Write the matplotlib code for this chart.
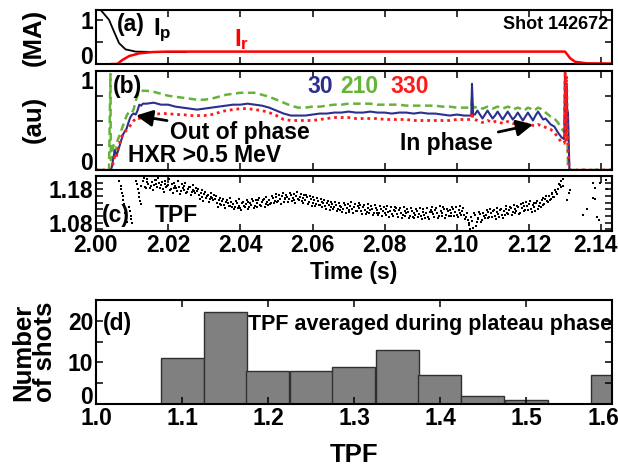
import matplotlib
matplotlib.use("Agg")
import matplotlib.pyplot as plt
from matplotlib.transforms import ScaledTranslation
import numpy as np

plt.rcParams['font.family'] = ['Liberation Sans', 'DejaVu Sans']
plt.rcParams['font.weight'] = 'bold'
plt.rcParams['mathtext.fontset'] = 'custom'
plt.rcParams['mathtext.rm'] = 'Liberation Sans:bold'
plt.rcParams['mathtext.it'] = 'Liberation Sans:bold'

# ---- (a) plasma current and runaway current (MA)
ip_t = [2.0000, 2.0013, 2.0036, 2.0050, 2.0064, 2.0082, 2.0110, 2.0175, 2.0250]
ip_v = [1.30, 1.22, 1.00, 0.73, 0.47, 0.33, 0.28, 0.27, 0.27]
ir_t = [2.0045, 2.0059, 2.0073, 2.0092, 2.0120, 2.0156, 2.0200, 2.0400, 2.0600,
        2.0800, 2.1000, 2.1200, 2.1300, 2.1314, 2.1328, 2.1360, 2.1430]
ir_v = [0.0, 0.0, 0.09, 0.18, 0.24, 0.27, 0.28, 0.28, 0.28,
        0.28, 0.28, 0.28, 0.28, 0.13, 0.05, 0.015, 0.01]

# ---- (b) HXR signals at toroidal angles 30, 210, 330
hxr_t = [2.0000, 2.0036,
         2.0040, 2.0041, 2.0044, 2.0048, 2.0052, 2.0056, 2.0060, 2.0065, 2.0070, 2.0075,
         2.0080, 2.0085, 2.0090, 2.0095, 2.0100, 2.0105, 2.0110, 2.0115, 2.0120, 2.0125, 2.0130,
         2.014, 2.016, 2.018, 2.020, 2.022, 2.024, 2.026, 2.028, 2.030, 2.032,
         2.034, 2.036, 2.038, 2.040, 2.042, 2.044, 2.046, 2.048, 2.050, 2.052,
         2.054, 2.056, 2.058, 2.060, 2.062, 2.064, 2.066, 2.068, 2.070, 2.072,
         2.074, 2.076, 2.078, 2.080, 2.082, 2.084, 2.086, 2.088, 2.090, 2.092,
         2.094, 2.096, 2.098, 2.100, 2.102,
         2.1035, 2.1040, 2.1042, 2.1045, 2.1050,
         2.1057, 2.1064, 2.1071, 2.1078, 2.1085, 2.1092, 2.1099, 2.1106, 2.1113, 2.1120,
         2.1127, 2.1134, 2.1141, 2.1148, 2.1155, 2.1162, 2.1169, 2.1176, 2.1183, 2.1190,
         2.1197, 2.1204, 2.1211, 2.1218, 2.1225, 2.1232, 2.1239, 2.1246, 2.1253, 2.1260,
         2.1270, 2.1280, 2.1290, 2.1298, 2.1300, 2.1302, 2.1304, 2.1306, 2.1308, 2.1312,
         2.1320, 2.1430]
hxr_30 = [0.0, 0.0,
          0.0, 0.0, 0.03, 0.12, 0.20, 0.15, 0.18, 0.24, 0.30, 0.36,
          0.39, 0.42, 0.48, 0.53, 0.56, 0.57, 0.56, 0.60, 0.66, 0.65, 0.67,
          0.67, 0.68, 0.66, 0.66, 0.64, 0.63, 0.62, 0.61, 0.62, 0.63,
          0.64, 0.65, 0.66, 0.66, 0.67, 0.66, 0.65, 0.63, 0.60, 0.57,
          0.55, 0.55, 0.55, 0.56, 0.57, 0.57, 0.58, 0.58, 0.59, 0.58,
          0.58, 0.59, 0.58, 0.58, 0.57, 0.58, 0.58, 0.57, 0.58, 0.57,
          0.57, 0.56, 0.55, 0.56, 0.55,
          0.55, 0.55, 0.87, 0.56, 0.56,
          0.60, 0.56, 0.52, 0.56, 0.60, 0.56, 0.52, 0.55, 0.59, 0.55,
          0.51, 0.55, 0.59, 0.55, 0.51, 0.54, 0.58, 0.54, 0.50, 0.54,
          0.58, 0.54, 0.50, 0.55, 0.59, 0.55, 0.51, 0.52, 0.49, 0.46,
          0.44, 0.38, 0.33, 0.31, 0.98, 0.35, 0.85, 0.60, 0.58, 0.0,
          0.0, 0.0]
hxr_210 = [0.0, 0.0,
           0.97, 0.10, 0.12, 0.25, 0.18, 0.22, 0.30, 0.35, 0.40, 0.45,
           0.50, 0.55, 0.58, 0.57, 0.58, 0.62, 0.70, 0.75, 0.78, 0.80, 0.80,
           0.80, 0.79, 0.77, 0.75, 0.74, 0.73, 0.72, 0.71, 0.71, 0.72,
           0.74, 0.76, 0.77, 0.78, 0.78, 0.78, 0.76, 0.74, 0.71, 0.68,
           0.65, 0.63, 0.63, 0.64, 0.64, 0.65, 0.66, 0.66, 0.67, 0.67,
           0.67, 0.67, 0.66, 0.66, 0.66, 0.66, 0.65, 0.65, 0.65, 0.65,
           0.65, 0.64, 0.64, 0.63, 0.63,
           0.63, 0.63, 0.72, 0.64, 0.63,
           0.64, 0.63, 0.62, 0.63, 0.64, 0.63, 0.62, 0.63, 0.64, 0.63,
           0.62, 0.63, 0.64, 0.63, 0.61, 0.62, 0.63, 0.62, 0.60, 0.61,
           0.63, 0.62, 0.60, 0.61, 0.63, 0.62, 0.60, 0.58, 0.56, 0.54,
           0.52, 0.48, 0.42, 0.38, 0.92, 0.40, 0.80, 0.45, 0.0, 0.0,
           0.0, 0.0]
hxr_330 = [0.0, 0.0,
           0.0, 0.0, 0.01, 0.08, 0.14, 0.12, 0.20, 0.26, 0.33, 0.36,
           0.38, 0.41, 0.43, 0.45, 0.47, 0.50, 0.52, 0.53, 0.52, 0.53, 0.54,
           0.55, 0.56, 0.57, 0.57, 0.56, 0.56, 0.55, 0.55, 0.55, 0.56,
           0.58, 0.60, 0.61, 0.62, 0.62, 0.61, 0.60, 0.58, 0.55, 0.51,
           0.50, 0.50, 0.50, 0.50, 0.51, 0.52, 0.53, 0.53, 0.53, 0.52,
           0.52, 0.52, 0.52, 0.51, 0.51, 0.51, 0.51, 0.50, 0.50, 0.50,
           0.50, 0.50, 0.50, 0.51, 0.51,
           0.51, 0.51, 0.58, 0.51, 0.51,
           0.50, 0.49, 0.48, 0.49, 0.50, 0.49, 0.48, 0.49, 0.49, 0.48,
           0.47, 0.48, 0.49, 0.48, 0.47, 0.47, 0.48, 0.47, 0.46, 0.46,
           0.47, 0.46, 0.45, 0.45, 0.46, 0.45, 0.44, 0.43, 0.42, 0.41,
           0.38, 0.33, 0.28, 0.27, 1.00, 0.30, 0.95, 0.40, 0.20, 0.0,
           0.0, 0.0]

# ---- (c) toroidal peaking factor vs time, two interleaved sample sets
tpf_start, tpf_start2, tpf_step = 2.0130, 2.01325, 0.0005
tpf_vals = [1.205, 1.188, 1.212, 1.196, 1.183, 1.201, 1.192, 1.209, 1.187, 1.199,
            1.194, 1.181, 1.197, 1.186, 1.192, 1.178, 1.195, 1.184, 1.190, 1.176,
            1.188, 1.174, 1.183, 1.191, 1.170, 1.180, 1.186, 1.172, 1.179, 1.168,
            1.175, 1.162, 1.170, 1.158, 1.166, 1.155, 1.163, 1.150, 1.158, 1.147,
            1.152, 1.140, 1.149, 1.137, 1.146, 1.133, 1.143, 1.138, 1.129, 1.141,
            1.135, 1.127, 1.140, 1.131, 1.124, 1.138, 1.129, 1.135, 1.142, 1.128,
            1.133, 1.145, 1.130, 1.139, 1.147, 1.134, 1.141, 1.150, 1.136, 1.143,
            1.148, 1.139, 1.153, 1.144, 1.157, 1.146, 1.152, 1.160, 1.143, 1.155,
            1.158, 1.150, 1.163, 1.155, 1.148, 1.161, 1.152, 1.158, 1.146, 1.154,
            1.149, 1.157, 1.143, 1.152, 1.140, 1.148, 1.137, 1.145, 1.133, 1.141,
            1.138, 1.129, 1.140, 1.132, 1.126, 1.137, 1.128, 1.134, 1.122, 1.131,
            1.128, 1.120, 1.133, 1.125, 1.118, 1.130, 1.122, 1.127, 1.116, 1.129,
            1.123, 1.115, 1.127, 1.119, 1.112, 1.125, 1.117, 1.121, 1.110, 1.124,
            1.118, 1.110, 1.122, 1.114, 1.108, 1.120, 1.112, 1.116, 1.106, 1.119,
            1.114, 1.106, 1.118, 1.110, 1.103, 1.116, 1.108, 1.112, 1.101, 1.115,
            1.110, 1.102, 1.114, 1.106, 1.099, 1.112, 1.104, 1.109, 1.098, 1.113,
            1.112, 1.105, 1.118, 1.108, 1.101, 1.116, 1.109, 1.120, 1.104, 1.114,
            1.117, 1.108, 1.121, 1.111, 1.104, 1.118, 1.110, 1.115, 1.102, 1.096,
            1.088, 1.072, 1.097, 1.065, 1.102, 1.083, 1.095, 1.106, 1.089, 1.099,
            1.104, 1.112, 1.098, 1.109, 1.115, 1.101, 1.111, 1.106, 1.117, 1.103,
            1.114, 1.121, 1.108, 1.119, 1.125, 1.112, 1.122, 1.116, 1.127, 1.110,
            1.124, 1.131, 1.118, 1.129, 1.135, 1.121, 1.132, 1.126, 1.138, 1.120,
            1.138, 1.147, 1.132, 1.152, 1.144, 1.160, 1.151, 1.166, 1.158, 1.172,
            1.180, 1.192, 1.205]
tpf_vals2 = [1.214, 1.183, 1.203, 1.219, 1.191, 1.178, 1.207, 1.196, 1.215, 1.185,
             1.201, 1.172, 1.206, 1.189, 1.211, 1.180, 1.169, 1.199, 1.183, 1.204,
             1.166, 1.195, 1.178, 1.199, 1.171, 1.188, 1.163, 1.192, 1.176, 1.185,
             1.181, 1.152, 1.177, 1.146, 1.172, 1.160, 1.141, 1.168, 1.153, 1.163,
             1.160, 1.128, 1.155, 1.132, 1.151, 1.124, 1.147, 1.130, 1.154, 1.126,
             1.120, 1.145, 1.123, 1.150, 1.118, 1.143, 1.126, 1.148, 1.121, 1.139,
             1.152, 1.125, 1.147, 1.128, 1.155, 1.130, 1.149, 1.126, 1.156, 1.133,
             1.135, 1.161, 1.138, 1.165, 1.141, 1.163, 1.137, 1.168, 1.150, 1.162,
             1.143, 1.170, 1.146, 1.167, 1.140, 1.172, 1.149, 1.166, 1.139, 1.163,
             1.164, 1.136, 1.160, 1.131, 1.157, 1.129, 1.154, 1.133, 1.151, 1.127,
             1.149, 1.121, 1.145, 1.118, 1.143, 1.120, 1.141, 1.116, 1.140, 1.119,
             1.113, 1.139, 1.110, 1.136, 1.112, 1.141, 1.109, 1.135, 1.114, 1.138,
             1.134, 1.107, 1.132, 1.105, 1.137, 1.108, 1.130, 1.103, 1.133, 1.109,
             1.102, 1.129, 1.100, 1.127, 1.104, 1.131, 1.098, 1.126, 1.101, 1.128,
             1.125, 1.097, 1.123, 1.095, 1.127, 1.099, 1.121, 1.094, 1.124, 1.098,
             1.093, 1.121, 1.096, 1.124, 1.091, 1.120, 1.095, 1.123, 1.090, 1.118,
             1.126, 1.097, 1.124, 1.095, 1.129, 1.099, 1.127, 1.094, 1.122, 1.100,
             1.099, 1.128, 1.101, 1.126, 1.097, 1.130, 1.103, 1.124, 1.090, 1.110,
             1.078, 1.060, 1.085, 1.110, 1.070, 1.092, 1.113, 1.081, 1.108, 1.094,
             1.118, 1.093, 1.121, 1.096, 1.119, 1.092, 1.123, 1.097, 1.120, 1.095,
             1.104, 1.131, 1.106, 1.128, 1.102, 1.133, 1.108, 1.130, 1.105, 1.135,
             1.140, 1.114, 1.142, 1.117, 1.145, 1.112, 1.139, 1.115, 1.146, 1.130,
             1.128, 1.155, 1.137, 1.161, 1.141, 1.149, 1.170, 1.156, 1.178, 1.165,
             1.195, 1.188]
tpf_sparse_t = [2.0065, 2.0068, 2.0070, 2.0072, 2.0074, 2.0076, 2.0078, 2.0079, 2.0081,
                2.0083, 2.0085, 2.0092, 2.0094, 2.0096, 2.0098, 2.0100, 2.0112, 2.0114,
                2.0116, 2.0118, 2.0120, 2.0122, 2.0124, 2.0126,
                2.1293, 2.1294, 2.1305, 2.1312, 2.1314, 2.1350, 2.1360, 2.1378, 2.1378,
                2.1383, 2.1383, 2.1389, 2.1394, 2.1397, 2.1414, 2.1417]
tpf_sparse_v = [1.205, 1.190, 1.182, 1.170, 1.160, 1.148, 1.135, 1.120, 1.108,
                1.095, 1.083, 1.128, 1.115, 1.100, 1.090, 1.080, 1.205, 1.195,
                1.180, 1.168, 1.158, 1.145, 1.135, 1.190,
                1.190, 1.210, 1.147, 1.169, 1.177, 1.102, 1.120, 1.198, 1.153,
                1.183, 1.150, 1.096, 1.087, 1.198, 1.207, 1.180]

# ---- (d) histogram of plateau-averaged TPF
tpf_bins = [1.00, 1.05, 1.10, 1.15, 1.20, 1.25, 1.30, 1.35, 1.40, 1.45, 1.50, 1.55, 1.60]
n_shots = [0, 0, 11, 22, 8, 8, 9, 13, 7, 2, 1, 0, 7]

C30, C210, C330 = '#2b2f8f', '#66b33a', '#ff1a1a'
LBL = 16.5   # tick labels
TXT = 16.5   # annotations
TTL = 18.5   # axis titles

fig = plt.figure(figsize=(6.18, 4.67), dpi=100)
L, W = 96 / 618, 516 / 618
def box(top, bot):
    return [L, 1 - bot / 467, W, (bot - top) / 467]

ax_a = fig.add_axes(box(10, 64))
ax_b = fig.add_axes(box(71, 170))
ax_c = fig.add_axes(box(176, 231))
ax_d = fig.add_axes(box(300, 404))

for ax in (ax_a, ax_b, ax_c, ax_d):
    for s in ax.spines.values():
        s.set_linewidth(1.5)
    ax.tick_params(which='both', direction='in', top=True, right=True,
                   labelsize=LBL, width=1.1, length=5, pad=2)

time_ticks = [2.00, 2.02, 2.04, 2.06, 2.08, 2.10, 2.12, 2.14]
for ax in (ax_a, ax_b, ax_c):
    ax.set_xlim(2.0, 2.143)
    ax.set_xticks(time_ticks)
for ax in (ax_a, ax_b):
    ax.set_xticklabels([])
ax_c.set_xticklabels(['%.2f' % t for t in time_ticks])

# (a)
ax_a.plot(ip_t, ip_v, color='black', lw=1.3)
ax_a.plot(ir_t, ir_v, color='#ff0000', lw=1.8)
ax_a.set_ylim(0, 1.22)
ax_a.set_yticks([0, 1])
ax_a.set_yticklabels(['0', '1'])
ax_a.set_yticks([0.5], minor=True)
ax_a.get_yticklabels()[0].set_va('baseline')
ax_a.text(0.041, 0.74, '(a)', transform=ax_a.transAxes, fontsize=TXT, va='center')
ax_a.text(0.110, 0.62, r'I$_\mathregular{p}$', transform=ax_a.transAxes, fontsize=TXT + 1,
          va='center')
ax_a.text(0.268, 0.46, r'I$_\mathregular{r}$', transform=ax_a.transAxes, fontsize=TXT + 1,
          va='center', color='#ff0000')
ax_a.text(0.992, 0.74, 'Shot 142672', transform=ax_a.transAxes, fontsize=13,
          va='center', ha='right')

# (b)
ax_b.plot(hxr_t, hxr_210, color=C210, lw=1.8, dashes=(3, 1.8))
ax_b.plot(hxr_t, hxr_30, color=C30, lw=1.5)
ax_b.plot(hxr_t, hxr_330, color=C330, lw=2.0, dashes=(1, 1.4))
ax_b.set_ylim(0, 1.0)
ax_b.set_yticks([0, 1])
ax_b.set_yticklabels(['0', '1'])
ax_b.set_yticks([0.25, 0.5, 0.75], minor=True)
ax_b.get_yticklabels()[0].set_va('baseline')
ax_b.get_yticklabels()[1].set_va('top')
ax_b.text(0.033, 0.84, '(b)', transform=ax_b.transAxes, fontsize=TXT, va='center')
ax_b.text(0.409, 0.84, '30', transform=ax_b.transAxes, fontsize=TXT, va='center', color=C30)
ax_b.text(0.473, 0.84, '210', transform=ax_b.transAxes, fontsize=TXT, va='center', color=C210)
ax_b.text(0.570, 0.84, '330', transform=ax_b.transAxes, fontsize=TXT, va='center', color=C330)
ax_b.text(0.062, 0.15, 'HXR >0.5 MeV', transform=ax_b.transAxes, fontsize=TXT, va='center')
ax_b.annotate('Out of phase', xy=(2.0111, 0.55), xytext=(0.143, 0.38),
              textcoords='axes fraction', fontsize=TXT, va='center', ha='left',
              arrowprops=dict(arrowstyle='-|>,head_length=0.6,head_width=0.3',
                              color='black', lw=2, shrinkA=0, shrinkB=0))
ax_b.annotate('In phase', xy=(2.1211, 0.46), xytext=(0.769, 0.27),
              textcoords='axes fraction', fontsize=TXT, va='center', ha='right',
              arrowprops=dict(arrowstyle='-|>,head_length=0.6,head_width=0.3',
                              color='black', lw=2, shrinkA=2, shrinkB=0))

# (c)
tpf_t = [tpf_start + i * tpf_step for i in range(len(tpf_vals))]
tpf_t2 = [tpf_start2 + i * tpf_step for i in range(len(tpf_vals2))]
for tt, vv in ((tpf_t, tpf_vals), (tpf_t2, tpf_vals2), (tpf_sparse_t, tpf_sparse_v)):
    ax_c.scatter(tt, vv, s=2.2, color='black', marker='s', lw=0)
ax_c.set_ylim(1.055, 1.22)
ax_c.set_yticks([1.08, 1.18])
ax_c.set_yticklabels(['1.08', '1.18'])
ax_c.set_yticks([1.06, 1.10, 1.12, 1.14, 1.16, 1.20], minor=True)
ax_c.text(0.012, 0.29, '(c)', transform=ax_c.transAxes, fontsize=TXT, va='center')
ax_c.text(0.114, 0.29, 'TPF', transform=ax_c.transAxes, fontsize=TXT, va='center')

# (d)
ax_d.bar(tpf_bins, n_shots, width=0.05, color='#808080', edgecolor='#303030', lw=1)
ax_d.set_xlim(1.0, 1.6)
ax_d.set_xticks([1.0, 1.1, 1.2, 1.3, 1.4, 1.5, 1.6])
ax_d.set_xticklabels(['1.0', '1.1', '1.2', '1.3', '1.4', '1.5', '1.6'])
ax_d.set_ylim(0, 25)
ax_d.set_yticks([0, 10, 20])
ax_d.set_yticks([5, 15], minor=True)
ax_d.get_yticklabels()[0].set_va('baseline')
ax_d.text(0.014, 0.77, '(d)', transform=ax_d.transAxes, fontsize=TXT, va='center')
ax_d.text(0.295, 0.76, 'TPF averaged during plateau phase', transform=ax_d.transAxes,
          fontsize=15.5, va='center')

# keep the last x labels inside the figure
for lab, dx in ((ax_c.get_xticklabels()[-1], 6), (ax_d.get_xticklabels()[-1], 9)):
    lab.set_transform(lab.get_transform() + ScaledTranslation(-dx / 100, 0, fig.dpi_scale_trans))

# axis titles
fig.text(34 / 618, 1 - 37 / 467, '(MA)', rotation=90, fontsize=TTL, ha='center', va='center')
fig.text(34 / 618, 1 - 119 / 467, '(au)', rotation=90, fontsize=TTL, ha='center', va='center')
fig.text(354 / 618, 1 - 272 / 467, 'Time (s)', fontsize=TXT, ha='center', va='center')
fig.text(34 / 618, 1 - 352 / 467, 'Number\nof shots', rotation=90, fontsize=TTL,
         ha='center', va='center', linespacing=0.9)
fig.text(354 / 618, 1 - 455 / 467, 'TPF', fontsize=TTL, ha='center', va='center')

fig.savefig('out.png', dpi=100)
